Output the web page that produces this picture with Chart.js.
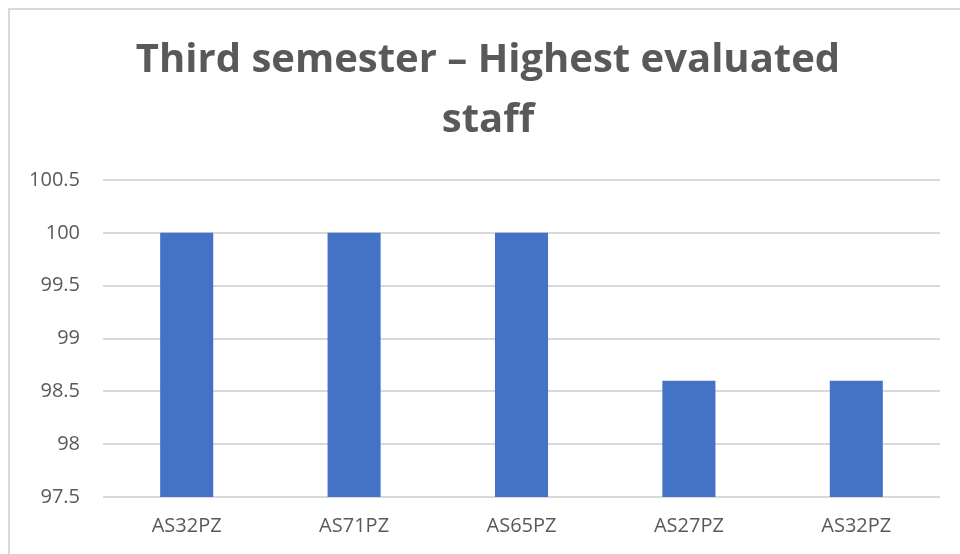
<!DOCTYPE html>
<html>
<head>
<meta charset="utf-8">
<script src="https://cdn.jsdelivr.net/npm/chart.js@4"></script>
<style>
  html, body { margin: 0; padding: 0; background: #fff; overflow: hidden; }
  #frame {
    position: absolute; left: 8px; top: 8px;
    width: 960px; height: 546px;
    border-left: 2px solid #d9d9d9; border-top: 2px solid #d9d9d9;
  }
  #chart { display: block; }
</style>
</head>
<body>
<div id="frame"><canvas id="chart" width="956" height="544"></canvas></div>
<script>
const titleLines = ['Third semester \u2013 Highest evaluated', 'staff'];
const staffCodes = ['AS32PZ', 'AS71PZ', 'AS65PZ', 'AS27PZ', 'AS32PZ'];
const scores = [100, 100, 100, 98.6, 98.6];
const yMin = 97.5;
const yMax = 100.5;
const yStep = 0.5;

const textGrey = '#595959';
const gridGrey = '#d9d9d9';
const barBlue = '#4472c4';
const fontFamily = '"Open Sans", "Noto Sans", sans-serif';

new Chart(document.getElementById('chart'), {
  type: 'bar',
  data: {
    labels: staffCodes,
    datasets: [{
      data: scores,
      backgroundColor: barBlue,
      borderWidth: 0,
      categoryPercentage: 1,
      barPercentage: 0.317
    }]
  },
  options: {
    responsive: false,
    animation: false,
    layout: { padding: 0 },
    plugins: {
      legend: { display: false },
      tooltip: { enabled: false },
      title: {
        display: true,
        text: titleLines,
        color: textGrey,
        font: { family: fontFamily, size: 40, weight: 'bold', lineHeight: 1.5 },
        padding: { top: 21, bottom: 29 }
      }
    },
    scales: {
      x: {
        grid: { display: false, drawTicks: false },
        border: { display: false },
        ticks: { color: textGrey, font: { family: fontFamily, size: 20 }, padding: 17, maxRotation: 0 },
        afterFit(scale) { scale.height = 57; }
      },
      y: {
        min: yMin,
        max: yMax,
        grid: { color: gridGrey, lineWidth: 2, drawTicks: false },
        border: { display: false },
        ticks: {
          stepSize: yStep,
          color: textGrey,
          font: { family: fontFamily, size: 20 },
          padding: 23,
          callback: value => String(value)
        },
        afterFit(scale) { scale.width = 93; }
      },
      // empty right-hand gutter so the title centres like the original
      gutter: {
        type: 'linear',
        position: 'right',
        grid: { display: false, drawTicks: false },
        border: { display: false },
        ticks: { display: false },
        afterFit(scale) { scale.width = 26; }
      }
    }
  }
});
</script>
</body>
</html>
